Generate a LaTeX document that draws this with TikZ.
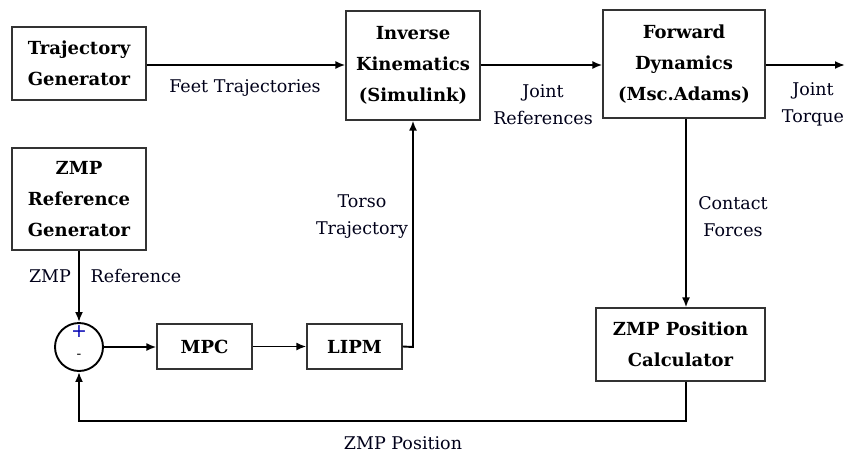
\documentclass[tikz,border=0pt]{standalone}
\usepackage{fontspec}
\setmainfont{DejaVu Serif}
\usetikzlibrary{arrows.meta}
\begin{document}
\begin{tikzpicture}[x=1pt,y=-1pt,
  blk/.style={draw=black!80, line width=1.2pt, font=\bfseries\fontsize{18}{31}\selectfont, align=center, inner sep=0pt},
  lbl/.style={font=\fontsize{17.5}{27}\selectfont, align=center, text=black!90!blue},
  conn/.style={line width=1.9pt, -{Latex[length=10pt,width=8pt]}}]
\useasboundingbox (0,0) rectangle (848,455);
\node[blk, minimum width=134pt, minimum height=73pt] (tg) at (79,63.5) {Trajectory\\Generator};
\node[blk, minimum width=134pt, minimum height=109pt] (ik) at (413,65.5) {Inverse\\Kinematics\\(Simulink)};
\node[blk, minimum width=162pt, minimum height=108pt] (fd) at (684,64) {Forward\\Dynamics\\(Msc.Adams)};
\node[blk, minimum width=134pt, minimum height=102pt] (zr) at (79,199) {ZMP\\Reference\\Generator};
\node[draw=black, line width=1.9pt, circle, minimum size=48pt, inner sep=0pt] (sum) at (79,347) {};
\node[text=blue!70!black, font=\fontsize{19}{19}\selectfont] (plus) at (79,332) {+};
\node[font=\fontsize{14}{14}\selectfont] (minus) at (79,356) {-};
\node[blk, minimum width=95pt, minimum height=45pt] (mpc) at (204.5,346.5) {MPC};
\node[blk, minimum width=95pt, minimum height=45pt] (lipm) at (354.5,346.5) {LIPM};
\node[blk, minimum width=169pt, minimum height=73pt] (zpc) at (680.5,344.5) {ZMP Position\\Calculator};
\coordinate (out) at (845,65);
\coordinate (c1) at (686,421);
\coordinate (c2) at (79,421);
\coordinate (c3) at (413,347);
\draw[conn] (tg.east |- 0,65) -- (ik.west |- 0,65);
\draw[conn] (ik.east |- 0,65) -- (fd.west |- 0,65);
\draw[conn] (fd.east |- 0,65) -- (out);
\draw[conn] (fd.south -| 686,0) -- (zpc.north -| 686,0);
\draw[conn] (zr.south) -- (sum.north);
\draw[conn] (sum.east) -- (mpc.west |- sum.east);
\draw[conn] (mpc.east) -- (lipm.west);
\draw[conn] (lipm.east) -- (c3) -- (ik.south);
\draw[conn] (zpc.south -| c1) -- (c1) -- (c2) -- (sum.south);
\node[lbl] (l1) at (245,88) {Feet Trajectories};
\node[lbl] (l2) at (543,104.5) {Joint\\References};
\node[lbl] (l3) at (813,104.5) {Joint\\Torque};
\node[lbl] (l4) at (733,216.5) {Contact\\Forces};
\node[lbl] (l5) at (362,216.5) {Torso\\Trajectory};
\node[lbl] (l6) at (50,276) {ZMP};
\node[lbl] (l7) at (136,276) {Reference};
\node[lbl] (l8) at (403,443) {ZMP Position};
\end{tikzpicture}
\end{document}
